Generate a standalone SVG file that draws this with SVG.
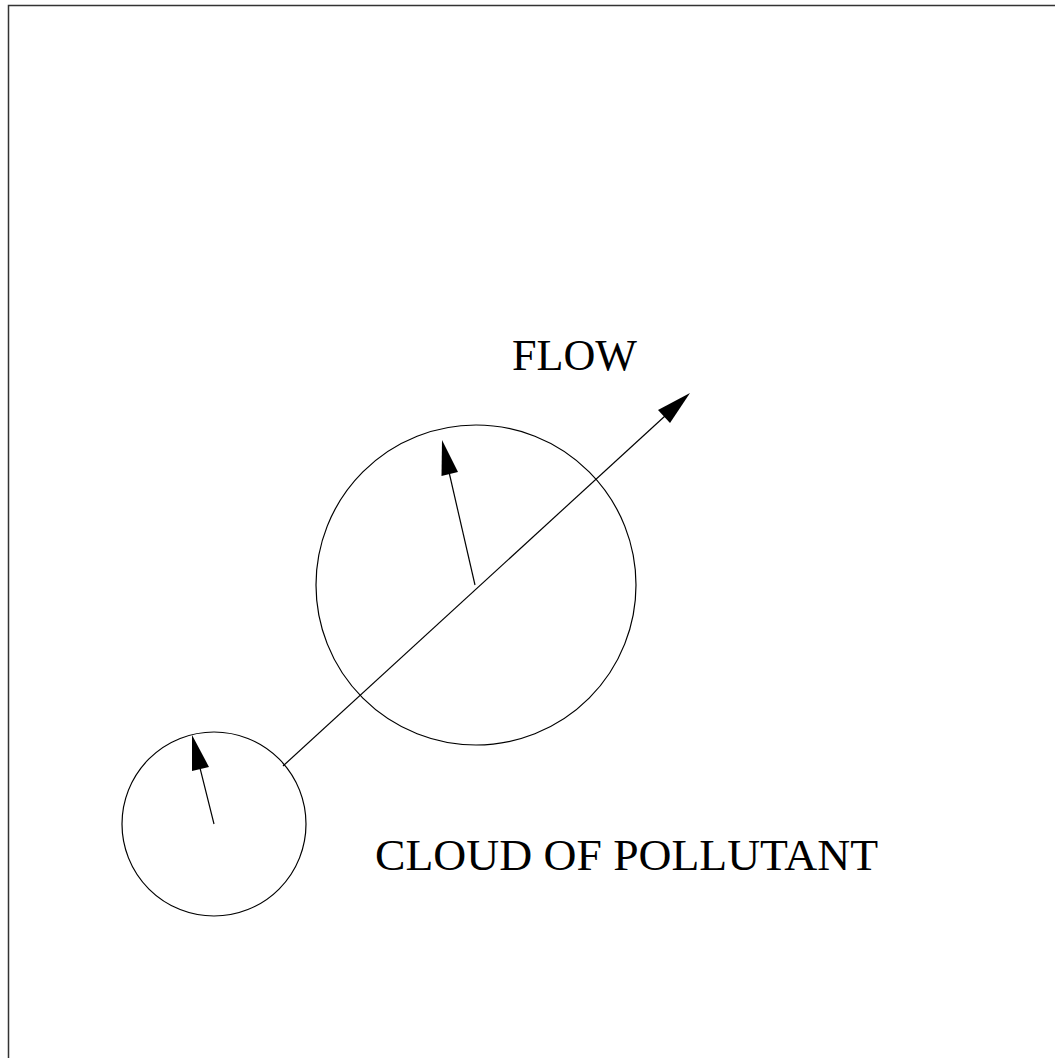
<svg xmlns="http://www.w3.org/2000/svg" width="1055" height="1058" viewBox="0 0 1055 1058">
<style>
.ln{fill:none;stroke:#000;stroke-width:1.2}
.hd{fill:#000;stroke:none}
.lbl{font-family:"Liberation Serif",serif;font-size:45px;fill:#000}
</style>
<rect width="1055" height="1058" fill="#fff"/>
<path d="M8.5,1058 V5.5 H1055" fill="none" stroke="#333" stroke-width="1.5"/>
<g id="cloud-large"><circle class="ln" cx="476" cy="585" r="160"/></g>
<g id="cloud-small"><circle class="ln" cx="214" cy="824" r="92"/></g>
<g id="connectors">
<line class="ln" x1="283" y1="766" x2="665" y2="416"/>
<polygon class="hd" points="690,393 670,423 658,410"/>
<line class="ln" x1="475" y1="585" x2="449" y2="472"/>
<polygon class="hd" points="442,440 441.5,476 458,472"/>
<line class="ln" x1="214" y1="824" x2="200" y2="768"/>
<polygon class="hd" points="192,735 192,771 209,767"/>
</g>
<g id="label-flow"><text class="lbl" x="512" y="370" textLength="125" lengthAdjust="spacingAndGlyphs">FLOW</text></g>
<g id="label-cloud"><text class="lbl" x="375" y="870" textLength="503" lengthAdjust="spacingAndGlyphs">CLOUD OF POLLUTANT</text></g>
</svg>
